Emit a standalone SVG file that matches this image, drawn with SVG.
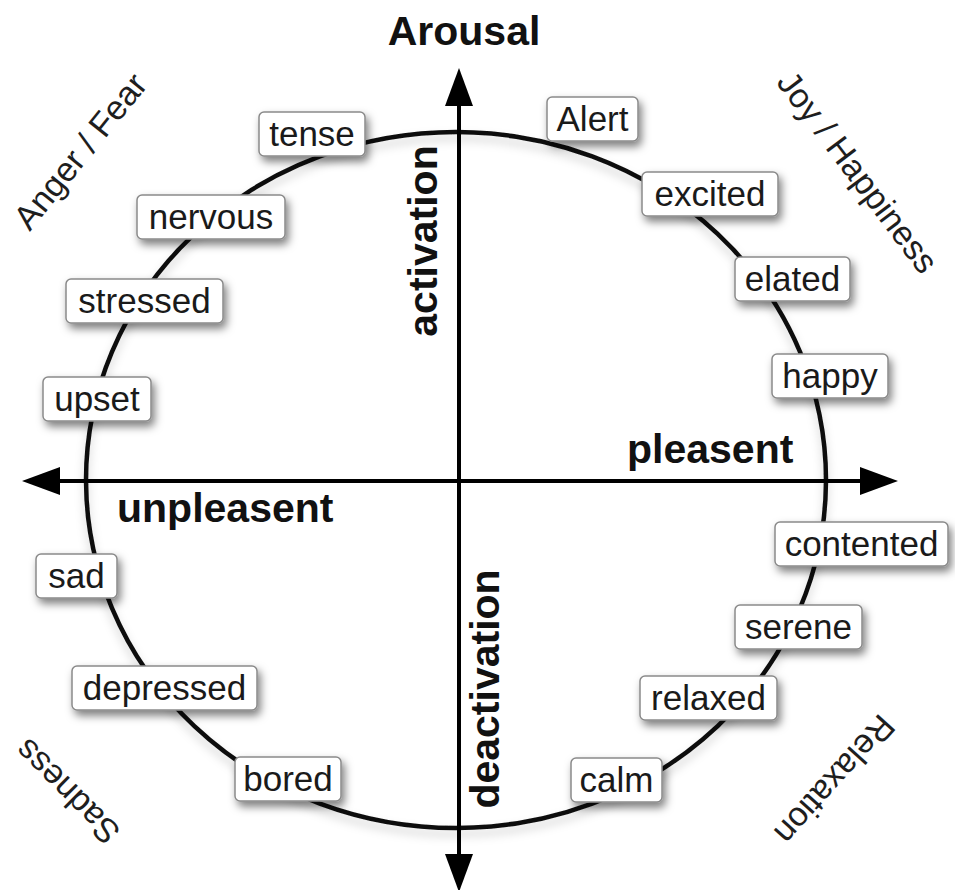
<svg xmlns="http://www.w3.org/2000/svg" width="955" height="890" viewBox="0 0 955 890">
<style>
  text { font-family: "Liberation Sans", Arial, Helvetica, sans-serif; }
  .box rect { fill: #ffffff; stroke: #8a8a8a; stroke-width: 1.5; filter: url(#shadow); }
  .box text { font-size: 35px; fill: #1a1a1a; text-anchor: middle; }
  .axis { stroke: #000; stroke-width: 4; fill: none; }
  .ring { stroke: #111; stroke-width: 4.5; fill: none; filter: url(#soft); }
  .ax { font-size: 41px; font-weight: bold; fill: #111; }
  .quad { font-size: 34px; fill: #1e1e1e; text-anchor: middle; dominant-baseline: central; }
</style>
<defs>
  <filter id="shadow" x="-30%" y="-40%" width="160%" height="200%">
    <feDropShadow dx="3" dy="5" stdDeviation="4.5" flood-color="#000" flood-opacity="0.5"/>
  </filter>
  <filter id="soft" x="-10%" y="-10%" width="120%" height="125%">
    <feDropShadow dx="0" dy="6" stdDeviation="5" flood-color="#000" flood-opacity="0.18"/>
  </filter>
  <marker id="head" viewBox="0 0 38 28" refX="20" refY="14" markerWidth="38" markerHeight="28" markerUnits="userSpaceOnUse" orient="auto-start-reverse">
    <path d="M0,0 L38,14 L0,28 z" fill="#000"/>
  </marker>
</defs>
<rect width="955" height="890" fill="#ffffff"/>

<g id="connectors">
  <ellipse class="ring" cx="456" cy="480" rx="370" ry="348"/>
  <line class="axis" x1="40" y1="481" x2="880" y2="481" marker-start="url(#head)" marker-end="url(#head)"/>
  <line class="axis" x1="459" y1="86" x2="459" y2="874" marker-start="url(#head)" marker-end="url(#head)"/>
</g>

<g id="axis-labels">
  <text class="ax" x="464" y="45" text-anchor="middle">Arousal</text>
  <text class="ax" x="627" y="463">pleasent</text>
  <text class="ax" x="117" y="522">unpleasent</text>
  <text class="ax" text-anchor="middle" transform="translate(437,241) rotate(-90)">activation</text>
  <text class="ax" text-anchor="middle" transform="translate(499,689) rotate(-90)">deactivation</text>
</g>

<g id="quadrant-labels">
  <text class="quad" transform="translate(80,151) rotate(-51)">Anger / Fear</text>
  <text class="quad" transform="translate(858,172) rotate(53)">Joy / Happiness</text>
  <text class="quad" transform="translate(67,792) rotate(-135)">Sadness</text>
  <text class="quad" transform="translate(835,780) rotate(132)">Relaxation</text>
</g>

<g id="tense" class="box"><rect x="259" y="112" width="106" height="44" rx="5"/><text x="312" y="146">tense</text></g>
<g id="alert" class="box"><rect x="547" y="97" width="91" height="44" rx="5"/><text x="592.5" y="131">Alert</text></g>
<g id="excited" class="box"><rect x="642" y="172" width="136" height="44" rx="5"/><text x="710" y="206">excited</text></g>
<g id="nervous" class="box"><rect x="137" y="195" width="148" height="44" rx="5"/><text x="211" y="229">nervous</text></g>
<g id="stressed" class="box"><rect x="66" y="279" width="157" height="44" rx="5"/><text x="144.5" y="313">stressed</text></g>
<g id="upset" class="box"><rect x="43" y="377" width="108" height="44" rx="5"/><text x="97" y="411">upset</text></g>
<g id="elated" class="box"><rect x="735" y="257" width="115" height="44" rx="5"/><text x="792.5" y="291">elated</text></g>
<g id="happy" class="box"><rect x="772" y="354" width="116" height="44" rx="5"/><text x="830" y="388">happy</text></g>
<g id="contented" class="box"><rect x="775" y="522" width="173" height="44" rx="5"/><text x="861.5" y="556">contented</text></g>
<g id="serene" class="box"><rect x="735" y="605" width="127" height="44" rx="5"/><text x="798.5" y="639">serene</text></g>
<g id="relaxed" class="box"><rect x="640" y="676" width="137" height="44" rx="5"/><text x="708.5" y="710">relaxed</text></g>
<g id="calm" class="box"><rect x="571" y="758" width="91" height="44" rx="5"/><text x="616.5" y="792">calm</text></g>
<g id="sad" class="box"><rect x="36" y="554" width="81" height="44" rx="5"/><text x="76.5" y="588">sad</text></g>
<g id="depressed" class="box"><rect x="72" y="666" width="185" height="44" rx="5"/><text x="164.5" y="700">depressed</text></g>
<g id="bored" class="box"><rect x="235" y="757" width="106" height="44" rx="5"/><text x="288" y="791">bored</text></g>
</svg>
